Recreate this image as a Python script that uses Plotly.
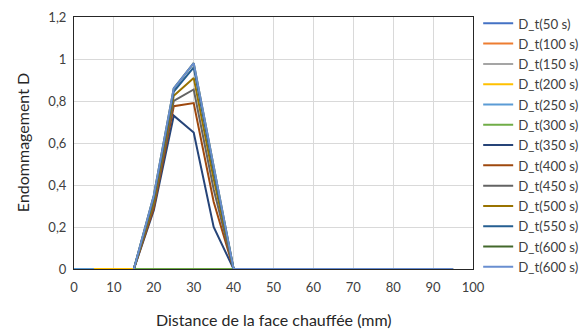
import plotly.graph_objects as go

x_dmg = [15, 20, 25, 30, 35, 40, 45, 50, 55, 60, 65, 70, 75, 80, 85, 90, 95]

names = ["D_t(50 s)", "D_t(100 s)", "D_t(150 s)", "D_t(200 s)", "D_t(250 s)",
         "D_t(300 s)", "D_t(350 s)", "D_t(400 s)", "D_t(450 s)", "D_t(500 s)",
         "D_t(550 s)", "D_t(600 s)", "D_t(600 s)"]
colors = ["#4472C4", "#ED7D31", "#A5A5A5", "#FFC000", "#5B9BD5", "#70AD47",
          "#264478", "#9E480E", "#636363", "#997300", "#255E91", "#43682B", "#698ED0"]

# zero-damage early times
x_early = [0, 5, 10, 15]
d_50 = [0, 0, 0, 0]
d_100 = [0, 0, 0, 0]
d_150 = [0, 0, 0, 0]
d_200 = [0, 0, 0, 0]
x_250 = [0, 5]
d_250 = [0, 0]
x_300 = [15, 20, 25, 30, 35, 40]
d_300 = [0, 0, 0, 0, 0, 0]

zeros_tail = [0] * 11
d_350 = [0, 0.28, 0.73, 0.65, 0.20, 0] + zeros_tail
d_400 = [0, 0.29, 0.775, 0.79, 0.32, 0] + zeros_tail
d_450 = [0, 0.31, 0.80, 0.855, 0.38, 0] + zeros_tail
d_500 = [0, 0.32, 0.825, 0.91, 0.43, 0] + zeros_tail
d_550 = [0, 0.34, 0.845, 0.96, 0.47, 0] + zeros_tail
d_600 = [0, 0.35, 0.86, 0.98, 0.49, 0] + zeros_tail
d_600b = [0, 0.35, 0.86, 0.98, 0.49, 0] + zeros_tail

x_title = "Distance de la face chauffée (mm)"
y_title = "Endommagement D"

series = [
    (x_early, d_50), (x_early, d_100), (x_early, d_150), (x_early, d_200),
    (x_250, d_250), (x_300, d_300),
    (x_dmg, d_350), (x_dmg, d_400), (x_dmg, d_450), (x_dmg, d_500),
    (x_dmg, d_550), (x_dmg, d_600), (x_dmg, d_600b),
]

fig = go.Figure()
for (xs, ys), n, c in zip(series, names, colors):
    fig.add_trace(go.Scatter(x=xs, y=ys, name=n, mode="lines",
                             line=dict(color=c, width=2)))

font = "Lato, 'Open Sans', sans-serif"
fig.update_layout(
    width=587, height=329,
    margin=dict(l=74, r=114, t=17, b=60, autoexpand=False),
    paper_bgcolor="white", plot_bgcolor="white",
    separators=", ",
    font=dict(family=font, size=13, color="#404040"),
    showlegend=True,
    legend=dict(x=1.013, y=1.035, xanchor="left", yanchor="top",
                font=dict(size=13.3, color="#404040"), maxheight=320,
                tracegroupgap=0, itemwidth=30, bgcolor="rgba(0,0,0,0)"),
    xaxis=dict(range=[0, 100], dtick=10, tick0=0, automargin=False,
               showgrid=True, gridcolor="#D9D9D9", gridwidth=1,
               showline=True, mirror=True, linecolor="#262626", linewidth=1,
               zeroline=False, ticks="", ticklabelstandoff=6),
    yaxis=dict(range=[0, 1.2], dtick=0.2, tick0=0, automargin=False,
               showgrid=True, gridcolor="#D9D9D9", gridwidth=1,
               showline=True, mirror=True, linecolor="#262626", linewidth=1,
               zeroline=False, ticks="", ticklabelstandoff=4),
    annotations=[
        dict(text=x_title, xref="paper", yref="paper", x=0.5, y=-0.2,
             xanchor="center", yanchor="middle", showarrow=False,
             font=dict(size=16, color="#262626")),
        dict(text=y_title, xref="paper", yref="paper", x=-0.13, y=0.5,
             xanchor="center", yanchor="middle", textangle=-90, showarrow=False,
             font=dict(size=16, color="#262626")),
    ],
)

fig.write_html("out.html", config={"displayModeBar": False},
               post_script="document.body.style.margin='0px';document.body.style.overflow='hidden';")
